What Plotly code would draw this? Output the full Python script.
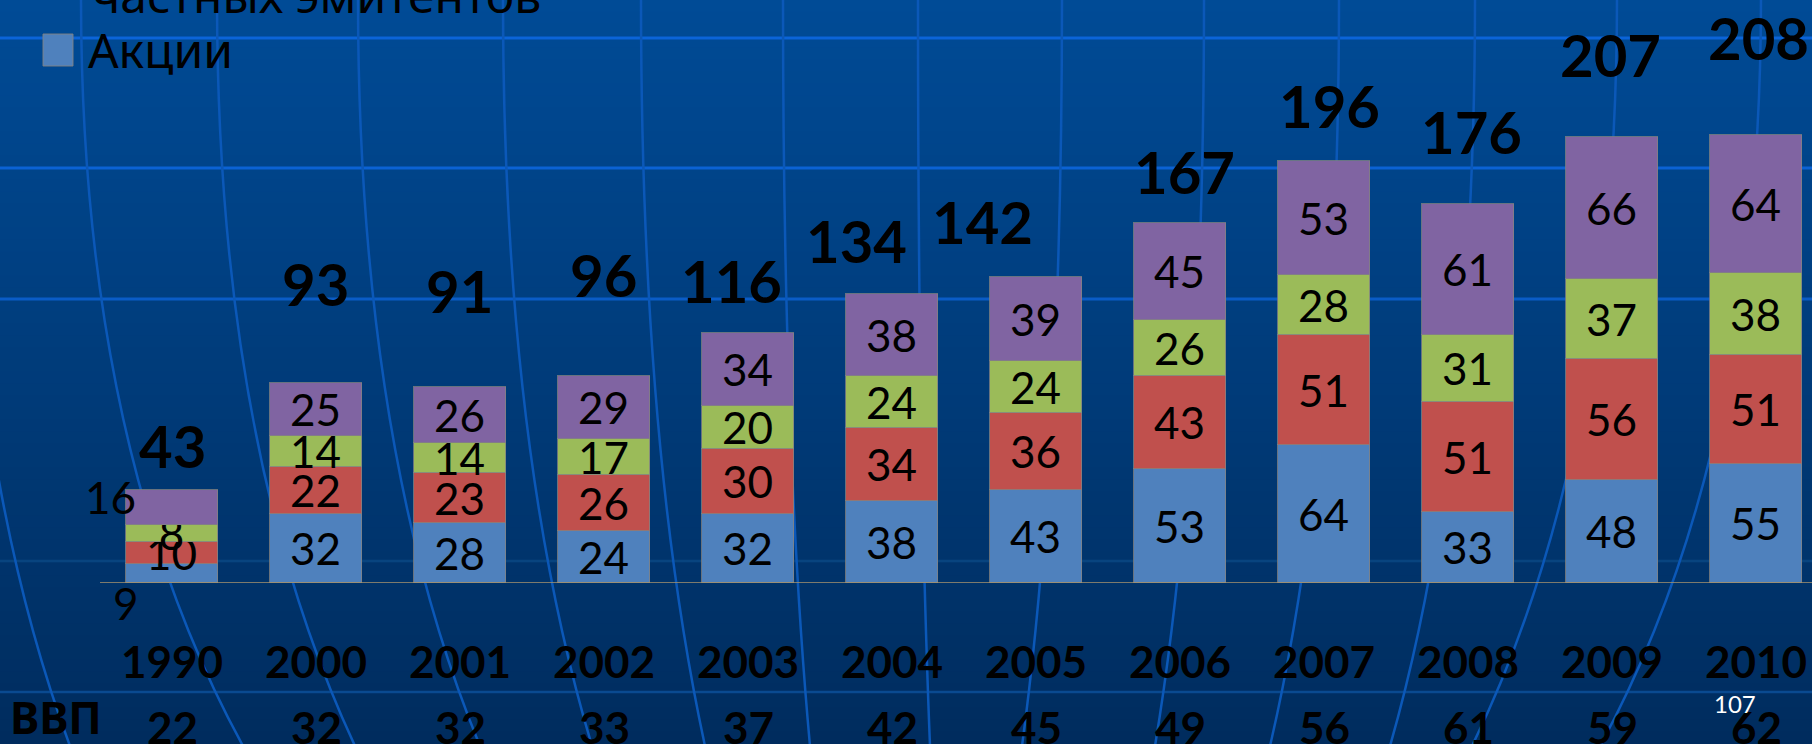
import plotly.graph_objects as go

# ---------------- data ----------------
years = ["1990", "2000", "2001", "2002", "2003", "2004", "2005", "2006", "2007", "2008", "2009", "2010"]
stocks = [9, 32, 28, 24, 32, 38, 43, 53, 64, 33, 48, 55]
corp_bonds = [10, 22, 23, 26, 30, 34, 36, 43, 51, 51, 56, 51]
gov_bonds = [8, 14, 14, 17, 20, 24, 24, 26, 28, 31, 37, 38]
loans = [16, 25, 26, 29, 34, 38, 39, 45, 53, 61, 66, 64]
totals = [43, 93, 91, 96, 116, 134, 142, 167, 196, 176, 207, 208]
gdp = [22, 32, 32, 33, 37, 42, 45, 49, 56, 61, 59, 62]

series_names = ["Акции", "Облигации частных эмитентов", "Государственные облигации", "Кредиты частному сектору"]
series_values = [stocks, corp_bonds, gov_bonds, loans]
series_colors = ["#4f81bd", "#c0504d", "#9bbb59", "#8064a2"]

# ---------------- layout geometry (pixels) ----------------
W, H = 1812, 744
BASE = 583            # baseline pixel row
PX_PER_UNIT = 2.155   # vertical pixels per value unit
X0PX, STEP = 172, 144  # first bar centre and spacing in px

# manual label offsets (px) for total labels
tot_dx = [0, -1, -1, -1, -17, -36, -54, 4, 5, 3, -2, 2]
tot_dy = [45, 99, 96, 102, 53, 54, 55, 52, 55, 72, 82, 97]

FONT = "Lato, 'Noto Sans', 'DejaVu Sans', sans-serif"
CYR = "'Noto Sans', Lato, sans-serif"

def px_x(px):
    return px / W

def px_y(py):
    return (BASE - py) / BASE

fig = go.Figure()

idx = list(range(len(years)))
for s, (name, vals, col) in enumerate(zip(series_names, series_values, series_colors)):
    txt = [str(v) for v in vals]
    if s in (0, 3):
        txt[0] = ""  # 1990 labels are displaced, drawn as annotations below
    fig.add_trace(go.Bar(
        x=idx, y=vals, name=name, width=0.64,
        marker=dict(color=col, line=dict(color="rgba(130,130,130,0.8)", width=1)),
        text=txt, textposition="inside", insidetextanchor="middle",
        textangle=0, constraintext="none",
        textfont=dict(family=FONT, size=44, color="black"),
        hoverinfo="skip",
    ))

annotations = []
# displaced 1990 labels
annotations.append(dict(x=0, y=stocks[0] / 2, text=str(stocks[0]), xshift=-46, yshift=-30,
                        showarrow=False, font=dict(family=FONT, size=44, color="black")))
top1990 = stocks[0] + corp_bonds[0] + gov_bonds[0]
annotations.append(dict(x=0, y=top1990 + loans[0] / 2, text=str(loans[0]), xshift=-62, yshift=11,
                        showarrow=False, font=dict(family=FONT, size=44, color="black")))

# totals
for i, t in enumerate(totals):
    annotations.append(dict(x=i, y=t, text=f"<b>{t}</b>", xshift=tot_dx[i], yshift=tot_dy[i],
                            yanchor="middle", showarrow=False,
                            font=dict(family=FONT, size=58, color="black")))

# GDP row
for i, g in enumerate(gdp):
    annotations.append(dict(x=i, y=0, text=f"<b>{g}</b>", yshift=-(727 - BASE), yanchor="middle",
                            showarrow=False, font=dict(family=FONT, size=44, color="black")))
annotations.append(dict(xref="paper", yref="paper", x=px_x(8), y=px_y(717), xanchor="left",
                        yanchor="middle", text="<b>ВВП</b>", showarrow=False,
                        font=dict(family=CYR, size=44, color="black")))
# slide number
annotations.append(dict(xref="paper", yref="paper", x=px_x(1758), y=px_y(720), text="107",
                        showarrow=False, font=dict(family=FONT, size=24, color="white")))

# legend (drawn manually: only the last entry is visible on the slide)
annotations.append(dict(xref="paper", yref="paper", x=px_x(86), y=px_y(49), xanchor="left",
                        yanchor="middle", text=series_names[0], showarrow=False,
                        font=dict(family=CYR, size=48, color="black")))
annotations.append(dict(xref="paper", yref="paper", x=px_x(90), y=px_y(-6), xanchor="left",
                        yanchor="middle", text="частных эмитентов", showarrow=False,
                        font=dict(family=CYR, size=48, color="black")))

shapes = []
# background gradient
n = 62
step = H / n
top_c = (0, 75, 150)
bot_c = (0, 44, 94)
for k in range(n):
    f = k / (n - 1)
    c = tuple(round(top_c[j] + (bot_c[j] - top_c[j]) * f) for j in range(3))
    shapes.append(dict(type="rect", xref="paper", yref="paper", layer="below",
                       x0=-0.01, x1=1.01, y0=px_y(k * step + step + 1), y1=px_y(k * step - 0.5),
                       fillcolor=f"rgb{c}", line=dict(width=0)))
# latitude lines
for py, col, w in [(38, "#0b64d8", 3), (168, "#0b62d4", 3), (299, "#0a5cc6", 3),
                   (561, "#08447f", 2.5), (692, "#0a4a90", 2.5)]:
    shapes.append(dict(type="line", xref="paper", yref="paper", layer="below",
                       x0=0, x1=1, y0=px_y(py), y1=px_y(py), line=dict(color=col, width=w)))
# meridians (top x, bottom x)
meridians = [(-40, 70), (81, 243), (217, 355), (358, 480), (503, 592), (641, 705), (783, 810),
             (918, 930), (1062, 1022), (1204, 1155), (1339, 1270), (1475, 1390),
             (1617, 1472), (1761, 1600)]
for xt, xb in meridians:
    path = (f"M {px_x(xt):.5f},{px_y(-2):.5f} Q {px_x(xt):.5f},{px_y(450):.5f} "
            f"{px_x(xb):.5f},{px_y(746):.5f}")
    shapes.append(dict(type="path", xref="paper", yref="paper", layer="below", path=path,
                       line=dict(color="#0b58b8", width=2.5)))
# baseline
shapes.append(dict(type="line", xref="x", yref="y", x0=-0.5, x1=12, y0=0, y1=0,
                   line=dict(color="#a8946e", width=1.5)))
# legend swatch
shapes.append(dict(type="rect", xref="paper", yref="paper", x0=px_x(43), x1=px_x(73),
                   y0=px_y(66), y1=px_y(34), fillcolor=series_colors[0],
                   line=dict(color="rgba(130,130,130,0.9)", width=1)))

fig.update_layout(
    width=W, height=H,
    margin=dict(l=0, r=0, t=0, b=H - BASE, pad=0, autoexpand=False),
    barmode="stack", bargap=0,
    showlegend=False,
    paper_bgcolor="#003a7a", plot_bgcolor="rgba(0,0,0,0)",
    xaxis=dict(range=[-X0PX / STEP, (W - X0PX) / STEP], tickmode="array", tickvals=idx,
               ticktext=[f"<b>{y}</b>" for y in years], showgrid=False, zeroline=False,
               showline=False, ticks="", ticklabelstandoff=50,
               tickfont=dict(family=FONT, size=44, color="black")),
    yaxis=dict(range=[0, BASE / PX_PER_UNIT], visible=False, showgrid=False, zeroline=False),
    annotations=annotations,
    shapes=shapes,
)

fig.write_html("out.html", config={"displayModeBar": False},
               post_script="document.body.style.margin='0';document.body.style.overflow='hidden';")
